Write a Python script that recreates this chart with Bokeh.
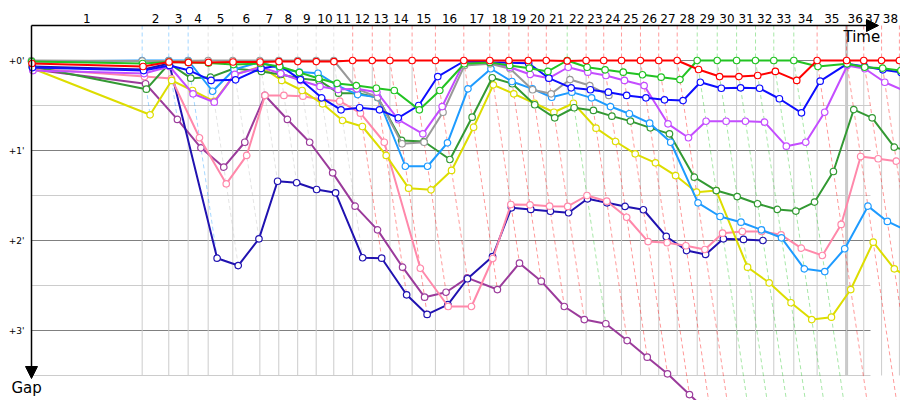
import numpy as np
from bokeh.plotting import figure
from bokeh.models import Range1d, Arrow, NormalHead, ColumnDataSource
from bokeh.core.properties import value
from bokeh.embed import file_html
from bokeh.resources import INLINE

# ---------------- data ----------------
# leader's cumulative race time (s) at the end of each lap, lap 0 .. 38
LEADER_TIME = [0, 503, 624, 712, 803, 915, 1038, 1124, 1210, 1294, 1374,
               1460, 1549, 1629, 1730, 1836, 1965, 2083, 2170, 2258, 2340,
               2435, 2521, 2601, 2682, 2768, 2851, 2935, 3026, 3117, 3205,
               3291, 3374, 3465, 3571, 3705, 3783, 3864, 3945]
LAP_LABELS = [str(i) for i in range(1, 39)]
Y_TICKS = [0, 60, 120, 180]
Y_TICK_LABELS = ["+0'", "+1'", "+2'", "+3'"]
MAJOR_GRID = [0, 60, 120, 180]
MINOR_GRID = [30, 90, 150, 210]

# gap to leader (s) at the end of each lap, lap 0 ..
GAP_RED = [2, 4, 1, 1.3, 1.3, 1, 1, 0.7, 0.7, 0.7, 0.7, 0, 0, 0, 0, 0, 0, 0, 0, 0, 0,
           0.3, 0, 0, 0, 0, 0, 0, 6, 10.7, 10.7, 10, 7.3, 13.3, 0, 0, 0, 0, 0]
GAP_GREEN = [0.7, 2, 1, 1.3, 1.7, 2.7, 2, 4, 8, 12, 15.3, 16.7, 18.5, 20, 32.9, 20, 2.2,
             1.3, 3.3, 5.1, 7.3, 0, 4.5, 6.2, 7.8, 9.5, 11.1, 12.7, 0, 0, 0, 0, 0, 0,
             4, 2.2, 4.5, 5.1, 6.7]
GAP_DARKGREEN = [4, 19.1, 2, 11.8, 11.1, 5.3, 7.3, 9.3, 12, 13.3, 21.8, 21.8, 24.7, 53.3,
                 54, 66, 37.8, 11.5, 15.5, 29.5, 38.2, 31.5, 33.3, 37.1, 40.4, 44.9, 48.9,
                 77.8, 86.7, 90.7, 95.5, 99.3, 100.4, 94.4, 74, 32.7, 38.2, 57.8, 61.3]
GAP_GRAY = [0, 0.3, 0.3, 0.2, 0, 0, 0, 0, 0, 0, 0, 18.9, 24.5, 55.5, 54.5, 34.5, 3.3, 2.2,
            5.5, 19.5, 22.2, 12.7, 16.7, 23.3]
GAP_LIGHTBLUE = [0.7, 0, 0, 0, 20.5, 6, 1, 5.5, 7.7, 8.5, 16.7, 22.7, 24.5, 70.5, 70.5,
                 54.9, 18.9, 5.5, 14, 18.9, 24.5, 21.1, 24.9, 30.7, 35.5, 41.8, 54.5, 94.9,
                 104, 107.8, 112.9, 118.2, 138.9, 140.7, 125.5, 97.1, 107.3, 113.3]
GAP_BLUE = [4.7, 6.7, 3.3, 6.7, 13.3, 12.9, 5.3, 3.3, 12.7, 24.9, 32.9, 31.5, 32.9, 38.2,
            30, 10.7, 0.5, 1.1, 1.5, 1.8, 11.8, 18.2, 19.5, 21.1, 23.3, 24.9, 26.2, 26.7,
            14.5, 18.5, 18.2, 18.5, 25.5, 34.9, 13.8, 2.2, 4, 6.2, 8]
GAP_VIOLET = [6.7, 8.7, 4, 22.2, 27.8, 9.3, 4.5, 8.7, 13.3, 17.3, 19.3, 18.9, 21.1, 39.5,
              48.9, 30.7, 1.1, 1.1, 4.5, 9.3, 11.8, 4.5, 7.8, 10, 13.3, 16.7, 42.2, 51.5,
              40.5, 40.5, 40.5, 41.1, 57.1, 54.5, 34.5, 3.3, 5.5, 14.5, 20]
GAP_YELLOW = [5.3, 36.2, 13.3, 20, 27.3, 9.3, 4, 13.3, 20, 28.9, 40, 44, 63.3, 85.1, 86.2,
              73.3, 44.5, 16.2, 22.2, 28.5, 34.5, 28.5, 45.1, 54, 62.2, 68.2, 76.7, 87.8,
              86.7, 137.8, 148.2, 161.5, 172.7, 171.1, 152.7, 121.1, 138.9, 146.7]
GAP_PINK = [5.3, 10.7, 12, 51.5, 82.2, 63.3, 23.3, 23.3, 23.8, 26, 27.1, 35.1, 54.5, 138.5,
            164, 164, 132, 96, 96.2, 97.1, 97.3, 90, 93.8, 104.5, 120.7, 121.5, 123.5, 126,
            115.1, 114, 114, 116.2, 125.1, 130, 109.3, 64, 65.5, 67.1, 68.7]
GAP_PLUM = [6, 15.5, 39.3, 58.2, 71.1, 54.5, 23.3, 39.3, 54.5, 74.9, 97.1, 112.9, 137.8,
            157.8, 154.5, 144.9, 152.7, 135.1, 147.1, 164, 172.7, 175.5, 186.7, 197.8, 208.9,
            222.7, 236, 250, 262, 277, 289, 304, 316, 331, 344, 358, 372, 385, 399]
GAP_NAVY = [4, 6, 2, 131.8, 136.7, 118.9, 80.5, 81.5, 86, 88.2, 131.5, 131.8, 156.2, 169.3,
            162.7, 145.5, 130.7, 98.2, 99.3, 100.5, 101.5, 92.2, 94.9, 97.3, 99.5, 117.3,
            126.7, 129.3, 118.9, 119.3, 120]

# drawing order (bottom first)
SERIES = [
    ("plum", "#9b3b9b", GAP_PLUM),
    ("navy", "#2012b0", GAP_NAVY),
    ("pink", "#ff88aa", GAP_PINK),
    ("yellow", "#dddd00", GAP_YELLOW),
    ("darkgreen", "#339933", GAP_DARKGREEN),
    ("lightblue", "#1e9bff", GAP_LIGHTBLUE),
    ("gray", "#999999", GAP_GRAY),
    ("violet", "#c44dff", GAP_VIOLET),
    ("blue", "#0d0dff", GAP_BLUE),
    ("green", "#22c322", GAP_GREEN),
    ("red", "#ff0000", GAP_RED),
]
HIGHLIGHT_LAP = 35

# ---------------- layout ----------------
W, H = 900, 400
ORIGIN_X, ORIGIN_Y = 31, 60     # figure pixel of (time 0, gap 0)
SX, SY = 0.22, 1.5              # px per second, horizontally / vertically


def dx(px):
    return (px - ORIGIN_X) / SX


def dy(py):
    return (py - ORIGIN_Y) / SY


p = figure(width=W, height=H,
           x_range=Range1d(dx(0), dx(W)),
           y_range=Range1d(dy(H), dy(0)),
           output_backend="svg", toolbar_location=None,
           x_axis_location=None, y_axis_location=None, min_border=0)
p.grid.visible = False
p.outline_line_color = None
p.background_fill_color = "white"
p.border_fill_color = "white"

FONT = value("DejaVu Sans")
T = np.array(LEADER_TIME, dtype=float)
TOP = dy(25)
GRID_END = dx(870)
BOTTOM = MINOR_GRID[-1]

# highlighted lap line
p.segment(x0=[T[HIGHLIGHT_LAP]], y0=[TOP], x1=[T[HIGHLIGHT_LAP]], y1=[BOTTOM],
          line_color="#c8c8c8", line_width=3)

# horizontal grid
p.segment(x0=[0] * len(MINOR_GRID), y0=MINOR_GRID, x1=[GRID_END] * len(MINOR_GRID),
          y1=MINOR_GRID, line_color="#cccccc", line_width=1)
p.segment(x0=[0] * len(MAJOR_GRID), y0=MAJOR_GRID, x1=[GRID_END] * len(MAJOR_GRID),
          y1=MAJOR_GRID, line_color="#808080", line_width=1)

# vertical lap lines (leader crossing times)
laps = np.arange(1, len(T))
p.segment(x0=T[1:], y0=[0] * len(laps), x1=T[1:], y1=[BOTTOM] * len(laps),
          line_color="#cccccc", line_width=1)

# leader of each lap, max gap of each lap
lead_col, max_gap = [], []
for n in laps:
    best, bestc, mx = None, None, 0.0
    for name, col, g in SERIES:
        if n < len(g):
            if best is None or g[n] < best:
                best, bestc = g[n], col
            mx = max(mx, g[n])
    lead_col.append(bestc)
    max_gap.append(mx)
lead_col = ["#bbbbbb" if c == "#999999" else c for c in lead_col]
max_gap = np.array(max_gap)

dash_src = ColumnDataSource(dict(
    xt=T[1:], yt=[TOP] * len(laps), x0=T[1:], y0=[0] * len(laps),
    x1=T[1:] + max_gap, y1=max_gap, c=lead_col))
p.segment(x0="xt", y0="yt", x1="x0", y1="y0", source=dash_src, line_color="c",
          line_alpha=0.4, line_width=1, line_dash="4 3")
p.segment(x0="x0", y0="y0", x1="x1", y1="y1", source=dash_src, line_color="c",
          line_alpha=0.4, line_width=1, line_dash="4 3")

# series
for name, col, g in SERIES:
    g = np.array(g, dtype=float)
    x = T[:len(g)] + g
    p.line(x, g, line_color=col, line_width=2)
    p.scatter(x, g, size=6.5, marker="circle", fill_color="white",
              line_color=col, line_width=1.2)

# axes with arrows
p.add_layout(Arrow(end=NormalHead(size=12, fill_color="black", line_color="black"),
                   x_start=0, y_start=TOP, x_end=dx(878), y_end=TOP,
                   line_color="black", line_width=1.5))
p.add_layout(Arrow(end=NormalHead(size=12, fill_color="black", line_color="black"),
                   x_start=0, y_start=TOP, x_end=0, y_end=dy(378),
                   line_color="black", line_width=1.5))

# lap labels
mids = (T[:-1] + T[1:]) / 2
p.text(x=mids, y=[dy(17.5)] * len(mids), text=LAP_LABELS, text_align="center",
       text_baseline="middle", text_font=FONT, text_font_size="12px", text_color="black")

# gap labels
p.text(x=[dx(24)] * len(Y_TICKS), y=Y_TICKS, text=Y_TICK_LABELS, text_align="right",
       text_baseline="middle", text_font=FONT, text_font_size="9px", text_color="black")

p.text(x=[dx(843)], y=[dy(27)], text=["Time"], text_align="left", text_baseline="top",
       text_font=FONT, text_font_size="15px", text_color="black")
p.text(x=[dx(11)], y=[dy(378)], text=["Gap"], text_align="left", text_baseline="top",
       text_font=FONT, text_font_size="15px", text_color="black")

open("out.html", "w").write(file_html(p, INLINE))
